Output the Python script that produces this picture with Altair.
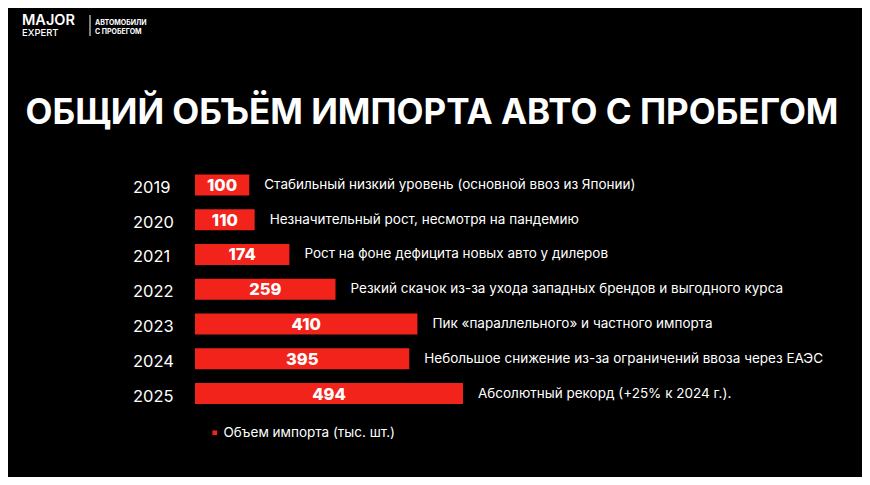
import altair as alt
import pandas as pd

years = ["2019", "2020", "2021", "2022", "2023", "2024", "2025"]
values = [100, 110, 174, 259, 410, 395, 494]
notes = [
    "Стабильный низкий уровень (основной ввоз из Японии)",
    "Незначительный рост, несмотря на пандемию",
    "Рост на фоне дефицита новых авто у дилеров",
    "Резкий скачок из-за ухода западных брендов и выгодного курса",
    "Пик «параллельного» и частного импорта",
    "Небольшое снижение из-за ограничений ввоза через ЕАЭС",
    "Абсолютный рекорд (+25% к 2024 г.).",
]
series_name = "Объем импорта (тыс. шт.)"
title_text = "ОБЩИЙ ОБЪЁМ ИМПОРТА АВТО С ПРОБЕГОМ"

RED = "#f2231b"
FONT = "Inter"

df = pd.DataFrame({"year": years, "value": values, "note": notes})
df["series"] = series_name

x_scale = alt.Scale(domain=[0, 494], range=[187, 455])
y_scale = alt.Scale(domain=years, range=[159.6, 402.9], paddingInner=0.4, paddingOuter=0.2)

base = alt.Chart(df).encode(
    y=alt.Y("year:N", scale=y_scale, axis=None),
)

bars = base.mark_bar(cornerRadius=0).encode(
    x=alt.X("value:Q", scale=x_scale, axis=None),
    color=alt.Color(
        "series:N",
        scale=alt.Scale(range=[RED]),
        legend=alt.Legend(
            orient="none", legendX=200, legendY=418, title=None,
            symbolType="square", symbolSize=22, symbolStrokeWidth=0,
            labelColor="#ffffff", labelFontSize=13.5, labelFont=FONT,
            labelLimit=400, padding=0, symbolOffset=0, labelOffset=2,
        ),
    ),
)

value_labels = base.transform_calculate(mid="datum.value / 2").mark_text(
    color="#ffffff", font=FONT, fontSize=16.5, fontWeight=800, baseline="middle", dy=1
).encode(
    x=alt.X("mid:Q", scale=x_scale, axis=None),
    text="value:Q",
)

note_labels = base.mark_text(
    color="#ffffff", font=FONT, fontSize=13.5, align="left", baseline="middle", dx=15
).encode(
    x=alt.X("value:Q", scale=x_scale, axis=None),
    text="note:N",
)

year_labels = base.mark_text(
    color="#ffffff", font=FONT, fontSize=16.5, align="left", baseline="middle", dy=3
).encode(
    x=alt.value(125),
    text="year:N",
)

title_df = pd.DataFrame({"t": [title_text]})
title = alt.Chart(title_df).mark_text(
    color="#ffffff", font=FONT, fontSize=35, fontWeight=700, align="center", baseline="alphabetic"
).encode(x=alt.value(424), y=alt.value(116), text="t:N")

logo_df = pd.DataFrame({"a": ["MAJOR"], "b": ["EXPERT"], "c": ["АВТОМОБИЛИ"], "d": ["С ПРОБЕГОМ"]})
logo1 = alt.Chart(logo_df).mark_text(
    color="#ffffff", font=FONT, fontSize=14.5, fontWeight=600, align="left", baseline="alphabetic"
).encode(x=alt.value(14), y=alt.value(17), text="a:N")
logo2 = alt.Chart(logo_df).mark_text(
    color="#ffffff", font=FONT, fontSize=9.5, fontWeight=500, align="left", baseline="alphabetic"
).encode(x=alt.value(14), y=alt.value(27.5), text="b:N")
logo3 = alt.Chart(logo_df).mark_text(
    color="#ffffff", font=FONT, fontSize=7, fontWeight=700, align="left", baseline="alphabetic"
).encode(x=alt.value(87), y=alt.value(16.5), text="c:N")
logo4 = alt.Chart(logo_df).mark_text(
    color="#ffffff", font=FONT, fontSize=7, fontWeight=700, align="left", baseline="alphabetic"
).encode(x=alt.value(87), y=alt.value(26), text="d:N")
logo_rule = alt.Chart(logo_df).mark_rule(color="#ffffff", strokeWidth=1).encode(
    x=alt.value(82), y=alt.value(7), y2=alt.value(28)
)

chart = alt.layer(
    bars, value_labels, note_labels, year_labels, title,
    logo1, logo2, logo3, logo4, logo_rule,
).properties(
    width=854, height=469, padding=0,
    autosize=alt.AutoSizeParams(type="none"),
    background="#000000",
).configure_view(strokeWidth=0)

chart.save("out.html", embed_options={"renderer": "svg", "actions": False})
